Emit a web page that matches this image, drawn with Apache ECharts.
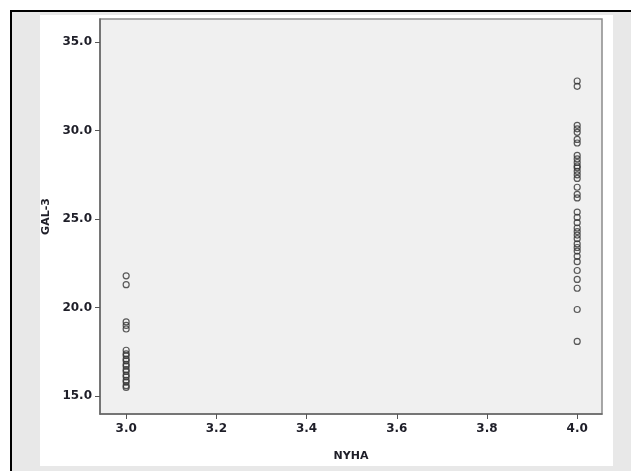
<!DOCTYPE html>
<html>
<head>
<meta charset="utf-8">
<script src="https://cdn.jsdelivr.net/npm/echarts@6/dist/echarts.min.js"></script>
<style>
	html,body{margin:0;padding:0;background:#fff;}
	#frame{position:absolute;left:10px;top:10px;width:640px;height:480px;border-left:2px solid #000;border-top:2px solid #000;background:#e8e8e8;}
	#panel{position:absolute;left:40px;top:15px;width:573px;height:451px;background:#fff;}
	#main{position:absolute;left:0;top:0;width:631px;height:471px;}
</style>
</head>
<body>
<div id="frame"></div>
<div id="panel"></div>
<div id="main"></div>
<script>
	// GAL-3 values per NYHA class
	var nyha3Gal = [21.8,21.3,19.2,19.0,18.8,17.6,17.4,17.3,17.1,17.0,16.8,16.7,16.5,16.4,16.2,16.1,15.9,15.8,15.6,15.5];
	var nyha4Gal = [32.8,32.5,30.3,30.1,29.9,29.5,29.3,28.6,28.4,28.2,28.0,27.9,27.7,27.5,27.3,26.8,26.4,26.2,25.4,25.1,24.8,24.5,24.3,24.1,23.9,23.6,23.4,23.2,22.9,22.6,22.1,21.6,21.1,19.9,18.1];
	var xTicks = [3.0,3.2,3.4,3.6,3.8,4.0];
	var yTicks = [15,20,25,30,35];

	var pts = [];
	$each(nyha3Gal,3);
	$each(nyha4Gal,4);
	function $each(arr,cls){
		for(var i=0;i<arr.length;i++){
			pts.push([cls,arr[i]]);
		}
	}

	var font = {fontFamily:'DejaVu Sans',fontWeight:'bold',fontSize:12,color:'#1e1e28'};
	var option = {
		animation:false,
		grid:{left:100,right:29,top:19,bottom:57,show:true,backgroundColor:'#f0f0f0',borderColor:'#8a8a8a',borderWidth:1.5},
		xAxis:{
			type:'value',min:2.942,max:4.055,
			name:'NYHA',nameLocation:'middle',nameGap:37,
			nameTextStyle:{fontFamily:'DejaVu Sans',fontWeight:'bold',fontSize:11,color:'#1e1e28'},
			splitLine:{show:false},
			axisLine:{show:true,lineStyle:{color:'#666',width:1.5}},
			axisTick:{show:true,length:5,customValues:xTicks,lineStyle:{color:'#555'}},
			axisLabel:Object.assign({customValues:xTicks,margin:9,formatter:function(v){return v.toFixed(1);}},font)
		},
		yAxis:{
			type:'value',min:14,max:36.3,
			name:'GAL-3',nameLocation:'middle',nameGap:46,
			nameTextStyle:{fontFamily:'DejaVu Sans',fontWeight:'bold',fontSize:11,color:'#1e1e28'},
			splitLine:{show:false},
			axisLine:{show:true,lineStyle:{color:'#666',width:1.5}},
			axisTick:{show:true,length:5,customValues:yTicks,lineStyle:{color:'#555'}},
			axisLabel:Object.assign({customValues:yTicks,margin:8,formatter:function(v){return v.toFixed(1);}},font)
		},
		series:[{
			type:'scatter',
			data:pts,
			symbol:'circle',
			symbolSize:6,
			itemStyle:{color:'rgba(0,0,0,0)',borderColor:'#333',borderWidth:1.2}
		}]
	};
	var myChart = echarts.init(document.getElementById('main'));
	myChart.setOption(option);
</script>
</body>
</html>
